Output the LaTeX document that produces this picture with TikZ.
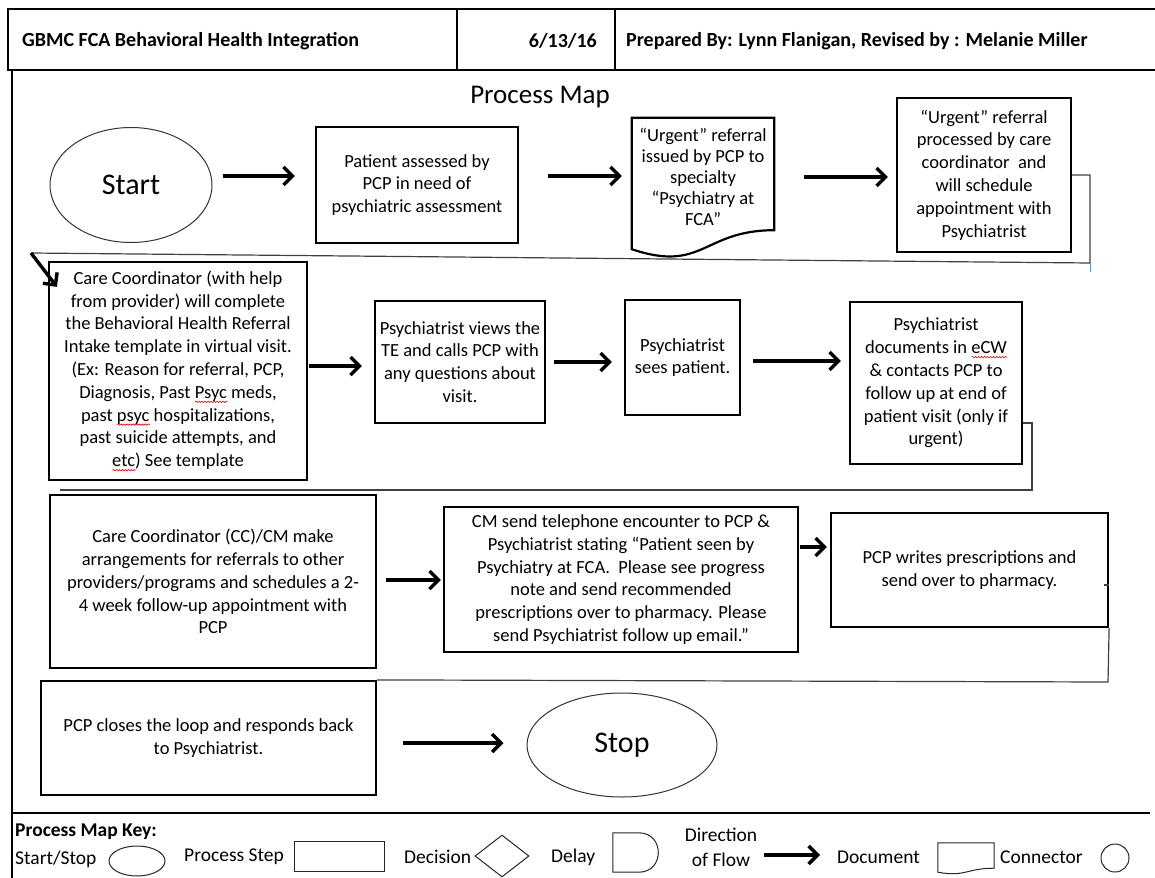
\documentclass[tikz,border=0pt]{standalone}
\usepackage{fontspec}
\setmainfont{Carlito}
\usetikzlibrary{arrows.meta,shapes.geometric,decorations.pathmorphing,calc}

\newcommand\bodyfont{\fontsize{18.5}{22.8}\selectfont}
\newcommand\keyfont{\fontsize{19.5}{25}\selectfont}
\newcommand\headfont{\fontsize{20}{24}\selectfont\bfseries}

% red spell-check wave under a word
\newsavebox\sqbox
\newlength\sqlen
\newcommand\squig[1]{%
  \sbox\sqbox{#1}\setlength\sqlen{\wd\sqbox}%
  \rlap{\tikz[baseline=0pt]\draw[red!90!black,line width=0.6pt,decorate,
    decoration={snake,amplitude=0.7pt,segment length=3pt}] (0pt,-3.5pt) -- (\sqlen,-3.5pt);}#1}

\begin{document}
\begin{tikzpicture}[x=1pt,y=-1pt,
  box/.style={draw=black,line width=2.2pt,rectangle,inner sep=0pt,align=center,font=\bodyfont},
  sz/.style 2 args={minimum width=#1pt,minimum height=#2pt},
  term/.style={draw=black!80,line width=1pt,ellipse,inner sep=0pt,font=\fontsize{30}{36}\selectfont},
  flow/.style={line width=3.4pt,-{Straight Barb[length=9pt,width=18pt]}},
  conn/.style={draw=black!75,line width=1.2pt},
  frame/.style={draw=black,line width=2pt},
  hcell/.style={draw=black,line width=2.2pt,rectangle,inner sep=0pt},
  keytext/.style={inner sep=0pt,font=\keyfont},
  keyshape/.style={draw=black!85,line width=1pt,inner sep=0pt}]

\useasboundingbox (0,0) rectangle (1155,877);
\fill[white] (0,0) rectangle (1155,877);

% header strip
\node[hcell,sz={449}{61}] (h1) at (232.5,39.5) {};
\node[hcell,sz={158}{61}] (h2) at (536,39.5) {};
\node[hcell,sz={550}{61}] (h3) at (890,39.5) {};
\node[inner sep=0pt,font=\headfont,anchor=west] (ht1) at (22,41) {GBMC FCA Behavioral Health Integration};
\node[inner sep=0pt,font=\headfont,anchor=east] (ht2) at (597,41) {6/13/16};
\node[inner sep=0pt,font=\headfont,anchor=west] (ht3) at (626,41) {Prepared By: Lynn Flanigan, Revised by : Melanie Miller};

% page frame
\draw[frame] (12,70) -- (12,880);
\draw[frame] (12,813) -- (1150,813);

\node[inner sep=0pt,font=\fontsize{27}{32}\selectfont] (title) at (540,97) {Process Map};

% row 1
\node[term,sz={162}{115}] (start) at (131,185) {Start};
\node[box,sz={202}{116}] (p1) at (417,185) {Patient assessed by\\PCP in need of\\psychiatric assessment};
\node[inner sep=0pt,align=center,font=\fontsize{18.5}{21}\selectfont,sz={142}{118}] (doc) at (703,177)
  {“Urgent” referral\\issued by PCP to\\specialty\\“Psychiatry at\\FCA”};
\draw[draw=black,line width=2.2pt,line join=miter] (doc.south west) -- (doc.north west) -- (doc.north east)
  -- ([yshift=6pt]doc.south east) .. controls ([yshift=6pt]doc.south) and ([yshift=-37pt]doc.south)
  .. ([yshift=-13pt]doc.south west) -- cycle;
\node[box,sz={174}{154}] (p2) at (984,175) {“Urgent” referral\\processed by care\\coordinator\ \ and\\will schedule\\appointment with\\Psychiatrist};

% row 2
\node[box,sz={258}{218}] (c1) at (178,371) {Care Coordinator (with help\\from provider) will complete\\the Behavioral Health Referral\\Intake template in virtual visit.\\(Ex: Reason for referral, PCP,\\Diagnosis, Past \squig{Psyc} meds,\\past \squig{psyc} hospitalizations,\\past suicide attempts, and\\\squig{etc}) See template};
\node[box,sz={170}{122}] (c2) at (460,362) {Psychiatrist views the\\TE and calls PCP with\\any questions about\\visit.};
\node[box,sz={115}{115}] (c3) at (682.5,357.5) {Psychiatrist\\sees patient.};
\node[box,sz={172}{162}] (c4) at (936,383) {Psychiatrist\\documents in \squig{eCW}\\\& contacts PCP to\\follow up at end of\\patient visit (only if\\urgent)};

% row 3
\node[box,sz={326}{173}] (d1) at (213,581.5) {Care Coordinator (CC)/CM make\\arrangements for referrals to other\\providers/programs and schedules a 2-\\4 week follow-up appointment with\\PCP};
\node[box,sz={354}{145}] (d2) at (621,579.5) {CM send telephone encounter to PCP \&\\Psychiatrist stating “Patient seen by\\Psychiatry at FCA.\ \ Please see progress\\note and send recommended\\prescriptions over to pharmacy. Please\\send Psychiatrist follow up email.”};
\node[box,sz={277}{114}] (d3) at (969.5,570) {PCP writes prescriptions and\\send over to pharmacy.};

% row 4
\node[box,sz={335}{114}] (e1) at (208.5,738) {PCP closes the loop and responds back\\to Psychiatrist.};
\node[term,sz={190}{104}] (stop) at (622,745) {Stop};

% flow arrows
\coordinate (a1) at ([yshift=9pt]start.east);
\draw[flow,shorten <=10pt,shorten >=20pt] (a1) -- (a1 -| p1.west);
\coordinate (a2) at ([yshift=9pt]p1.east);
\draw[flow,shorten <=29pt,shorten >=10pt] (a2) -- (a2 -| doc.west);
\draw[flow,shorten <=30pt,shorten >=8pt] (doc.east) -- (doc.east -| p2.west);

\coordinate (k1) at (1090,263);
\coordinate (k2) at (31,253);
\draw[conn] (p2.east) -| (k1) -- (k2);
\draw[draw={rgb,255:red,91;green,155;blue,213},line width=1pt] (k1) -- ++(0,9);
\draw[flow] (k2) -- ($(c1.north west)+(9,26)$);

\coordinate (a4) at ([yshift=5pt]c1.east);
\draw[flow,shorten <=1pt,shorten >=12pt] (a4) -- (a4 -| c2.west);
\draw[flow,shorten <=8pt,shorten >=12pt] (c2.east) -- (c2.east -| c3.west);
\coordinate (a6) at ([yshift=-3.5pt]c3.east);
\draw[flow,shorten <=12pt,shorten >=8pt] (a6) -- (a6 -| c4.west);

\coordinate (k3) at (1032,490);
\coordinate (k4) at (60,490);
\draw[conn] ([yshift=-40pt]c4.east) -| (k3) -- (k4);

\coordinate (a7) at ([yshift=1.5pt]d1.east);
\draw[flow,shorten <=9pt,shorten >=2pt] (a7) -- (a7 -| d2.west);
\coordinate (a8) at ([yshift=32.5pt]d2.east);
\draw[flow,shorten <=1pt,shorten >=3pt] (a8) -- (a8 -| d3.west);

\coordinate (k5) at (1108,682);
\draw[conn] (d3.south east) -- (k5) -- (e1.north east);
\draw[conn] ([yshift=-15pt]d3.east) -- ++(-5,0);

\coordinate (a9) at ([yshift=-5pt]e1.east);
\draw[flow,shorten <=26pt,shorten >=23pt] (a9) -- (a9 -| stop.west);

% key
\node[keytext,anchor=west,font=\keyfont\bfseries] (kkey) at (15,832) {Process Map Key:};
\node[keytext,anchor=west] (kss) at (15,859) {Start/Stop};
\node[keyshape,ellipse,sz={56}{30}] (kstart) at (137,861) {};
\node[keytext,anchor=west] (kps) at (184,857) {Process Step};
\node[keyshape,rectangle,sz={90}{30}] (kstep) at (339,856) {};
\node[keytext,anchor=west] (kdt) at (404,857) {Decision};
\node[keyshape,diamond,sz={54}{42}] (kdec) at (502,856) {};
\node[keytext,anchor=west] (kdl) at (551,857) {Delay};
\node[inner sep=0pt,sz={46}{39}] (kdelay) at (636,852.5) {};
\draw[keyshape] (kdelay.south west) -- (kdelay.north west) -- ($(kdelay.north west)+(26,0)$)
  .. controls ($(kdelay.north west)+(52,0)$) and ($(kdelay.south west)+(52,0)$) .. ($(kdelay.south west)+(26,0)$) -- cycle;
\node[keytext,align=center] (kdir) at (721,847) {Direction\\of Flow};
\node[keytext,anchor=west] (kdt2) at (837,857) {Document};
\coordinate (ka) at ([yshift=-8pt]kdir.east);
\draw[flow,shorten <=7pt,shorten >=17pt] (ka) -- (ka -| kdt2.west);
\node[inner sep=0pt,sz={56}{29}] (kdoc) at (966,857.5) {};
\draw[keyshape] (kdoc.south west) -- (kdoc.north west) -- (kdoc.north east) -- ([yshift=4pt]kdoc.south east)
  .. controls ([yshift=4pt]kdoc.south) and ([yshift=-5pt]kdoc.south) .. (kdoc.south west) -- cycle;
\node[keytext,anchor=west] (kct) at (1000,857) {Connector};
\node[keyshape,circle,minimum size=28pt] (kconn) at (1115,858) {};
\end{tikzpicture}
\end{document}
